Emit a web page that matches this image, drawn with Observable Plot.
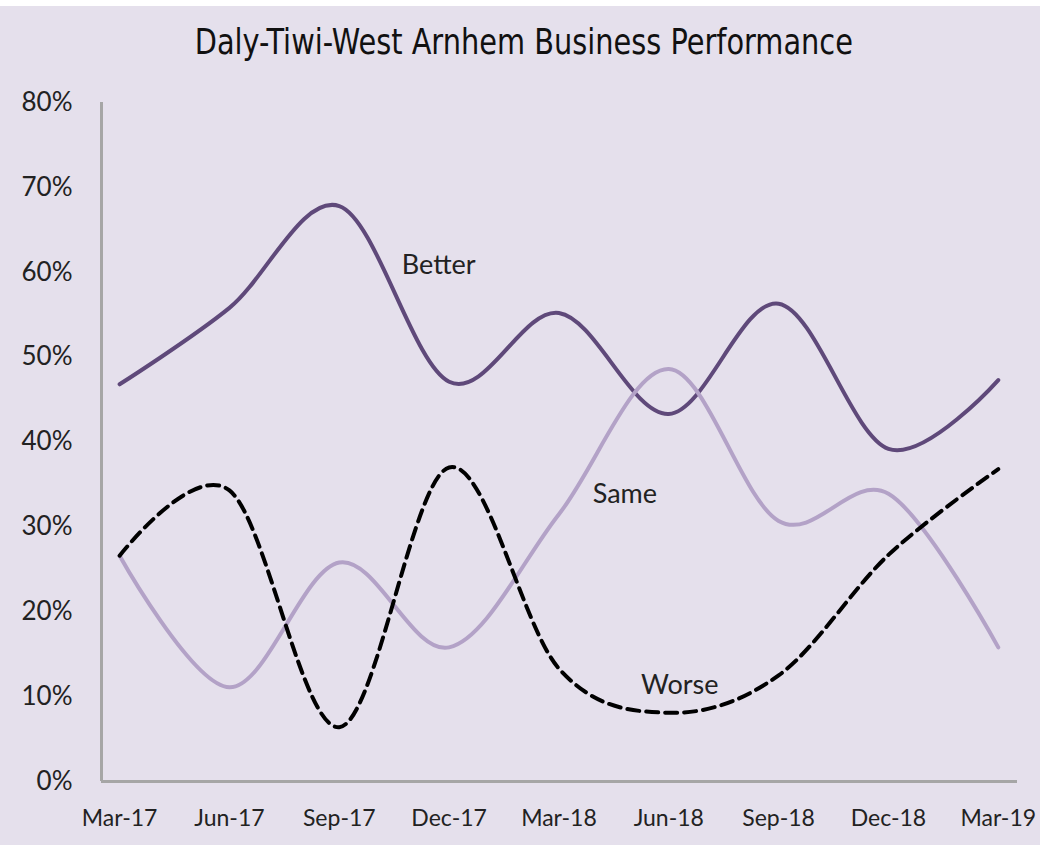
<!DOCTYPE html>
<html><head><meta charset="utf-8">
<script src="https://cdn.jsdelivr.net/npm/d3@7"></script>
<script src="https://cdn.jsdelivr.net/npm/@observablehq/plot@0.6"></script>
<style>
html,body{margin:0;padding:0;background:#fff;}
#wrap{margin-top:6px;width:1040px;height:839px;background:#e5e0ec;overflow:hidden;}
#title{height:74px;box-sizing:border-box;padding-top:18px;padding-left:8px;text-align:center;}
#title span{display:inline-block;transform:scaleX(0.89);transform-origin:center;font-family:"DejaVu Sans Condensed","Liberation Sans Narrow",sans-serif;font-size:36px;line-height:36px;color:#111;white-space:nowrap;}
</style>
</head><body>
<div id="wrap"><div id="title"><span>Daly-Tiwi-West Arnhem Business Performance</span></div><div id="chart"></div></div>
<script>
const periods = ["Mar-17","Jun-17","Sep-17","Dec-17","Mar-18","Jun-18","Sep-18","Dec-18","Mar-19"];
const better = [46.8, 55.8, 67.8, 47.1, 55.2, 43.3, 56.3, 39.2, 47.3];
const same   = [26.6, 11.1, 25.8, 15.8, 31.5, 48.6, 30.7, 33.9, 15.8];
const worse  = [26.6, 34.3, 6.4, 37.0, 13.3, 8.1, 12.5, 26.7, 36.8];
const yTicks = [0, 10, 20, 30, 40, 50, 60, 70, 80];
const seriesNames = ["Better", "Same", "Worse"];

const seriesValues = [better, same, worse];
const rows = seriesNames.flatMap((name, k) => seriesValues[k].map((v, i) => ({series: name, i, value: v})));
const bySeries = name => rows.filter(d => d.series === name);

// annotation anchors (data units)
const labelAt = [{x: 2.905, y: 60.8}, {x: 4.6, y: 33.8}, {x: 5.1, y: 11.3}];
const xDomain = [-0.165, periods.length - 1 + 0.175];

const chart = Plot.plot({
  width: 1040, height: 765,
  marginTop: 22, marginBottom: 64, marginLeft: 101, marginRight: 23,
  style: {background: "transparent", fontFamily: "Lato, sans-serif", color: "#222", overflow: "visible"},
  x: {type: "linear", domain: xDomain},
  y: {domain: [0, 80]},
  marks: [
    Plot.axisY({ticks: yTicks, tickSize: 0, tickPadding: 29, tickFormat: d => d + "%", fontSize: 26, label: null}),
    Plot.axisX({ticks: d3.range(periods.length), tickSize: 0, tickPadding: 28, tickFormat: i => periods[i], fontSize: 23, label: null}),
    Plot.ruleX([xDomain[0]], {y1: 0, y2: 80, stroke: "#a6a6a6", strokeWidth: 3}),
    Plot.ruleY([0], {x1: xDomain[0], x2: xDomain[1], stroke: "#a6a6a6", strokeWidth: 3}),
    Plot.line(bySeries("Better"), {x: "i", y: "value", stroke: "#5f497a", strokeWidth: 4, curve: "catmull-rom", tension: 0, strokeLinecap: "round"}),
    Plot.line(bySeries("Same"), {x: "i", y: "value", stroke: "#b3a2c7", strokeWidth: 4, curve: "catmull-rom", tension: 0, strokeLinecap: "round"}),
    Plot.line(bySeries("Worse"), {x: "i", y: "value", stroke: "#000", strokeWidth: 4, curve: "catmull-rom", tension: 0, strokeDasharray: "12,7"}),
    Plot.text(seriesNames, {x: (d, i) => labelAt[i].x, y: (d, i) => labelAt[i].y, text: d => d, fontSize: 27, fill: "#222"})
  ]
});
document.getElementById("chart").appendChild(chart);
</script>
</body></html>
